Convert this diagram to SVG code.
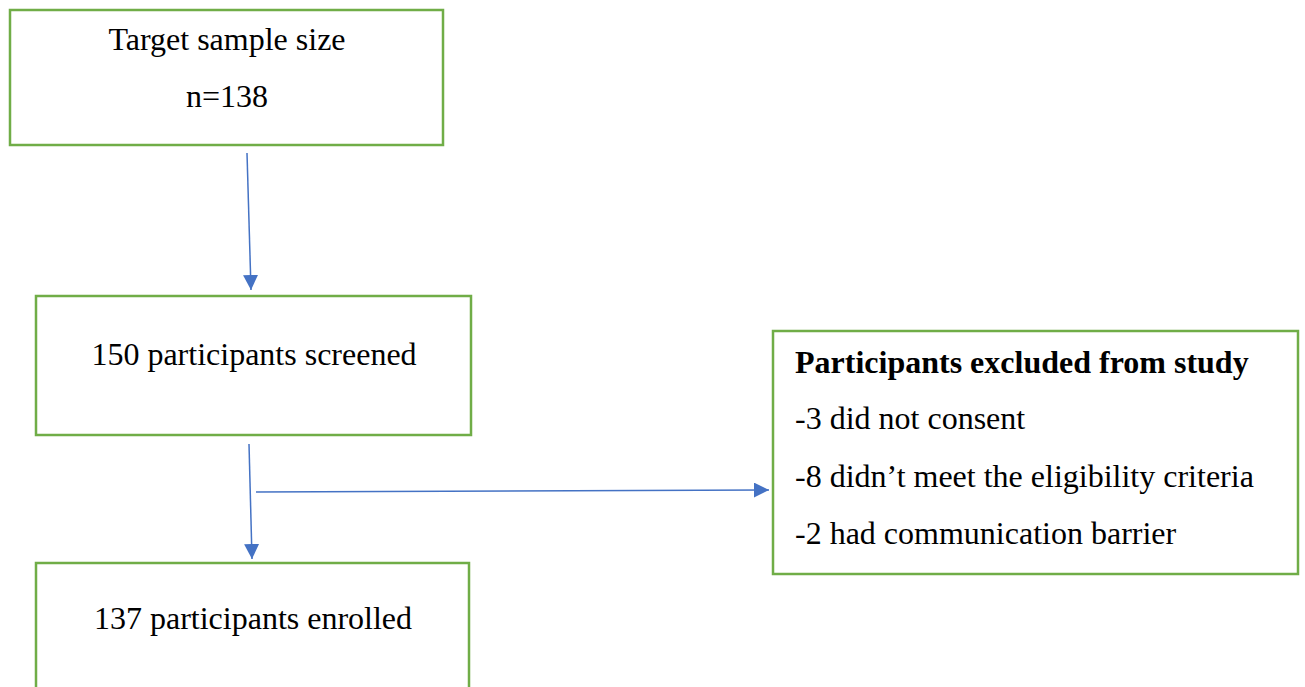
<svg xmlns="http://www.w3.org/2000/svg" width="1305" height="687" viewBox="0 0 1305 687">
<defs>
<style>
.box{fill:#fff;stroke:#70AD47;stroke-width:2.5}
.t{font-family:"Liberation Serif","Times New Roman",serif;font-size:32px;fill:#000}
.c{text-anchor:middle}
.b{font-weight:bold}
.conn{stroke:#4472C4;stroke-width:1.5;fill:none}
</style>
<marker id="ah" viewBox="0 0 10 10" refX="10" refY="5" markerWidth="15" markerHeight="15" markerUnits="userSpaceOnUse" orient="auto">
<path d="M0,0 L10,5 L0,10 Z" fill="#4472C4"/>
</marker>
</defs>
<rect width="1305" height="687" fill="#fff"/>
<g id="connectors">
<line class="conn" x1="247" y1="153" x2="251" y2="290" marker-end="url(#ah)"/>
<line class="conn" x1="249" y1="444" x2="252" y2="559" marker-end="url(#ah)"/>
<line class="conn" x1="256" y1="492" x2="769" y2="490" marker-end="url(#ah)"/>
</g>
<g id="node-target">
<rect class="box" x="10" y="10" width="433" height="135"/>
<text class="t c" x="227" y="50">Target sample size</text>
<text class="t c" x="227" y="107">n=138</text>
</g>
<g id="node-screened">
<rect class="box" x="36" y="296" width="435" height="139"/>
<text class="t c" x="254" y="365">150 participants screened</text>
</g>
<g id="node-excluded">
<rect class="box" x="773" y="331" width="525" height="243"/>
<text class="t b" x="795" y="373">Participants excluded from study</text>
<text class="t" x="795" y="429">-3 did not consent</text>
<text class="t" x="795" y="487">-8 didn’t meet the eligibility criteria</text>
<text class="t" x="795" y="544">-2 had communication barrier</text>
</g>
<g id="node-enrolled">
<rect class="box" x="36" y="563" width="433" height="140"/>
<text class="t c" x="253" y="629">137 participants enrolled</text>
</g>
</svg>
